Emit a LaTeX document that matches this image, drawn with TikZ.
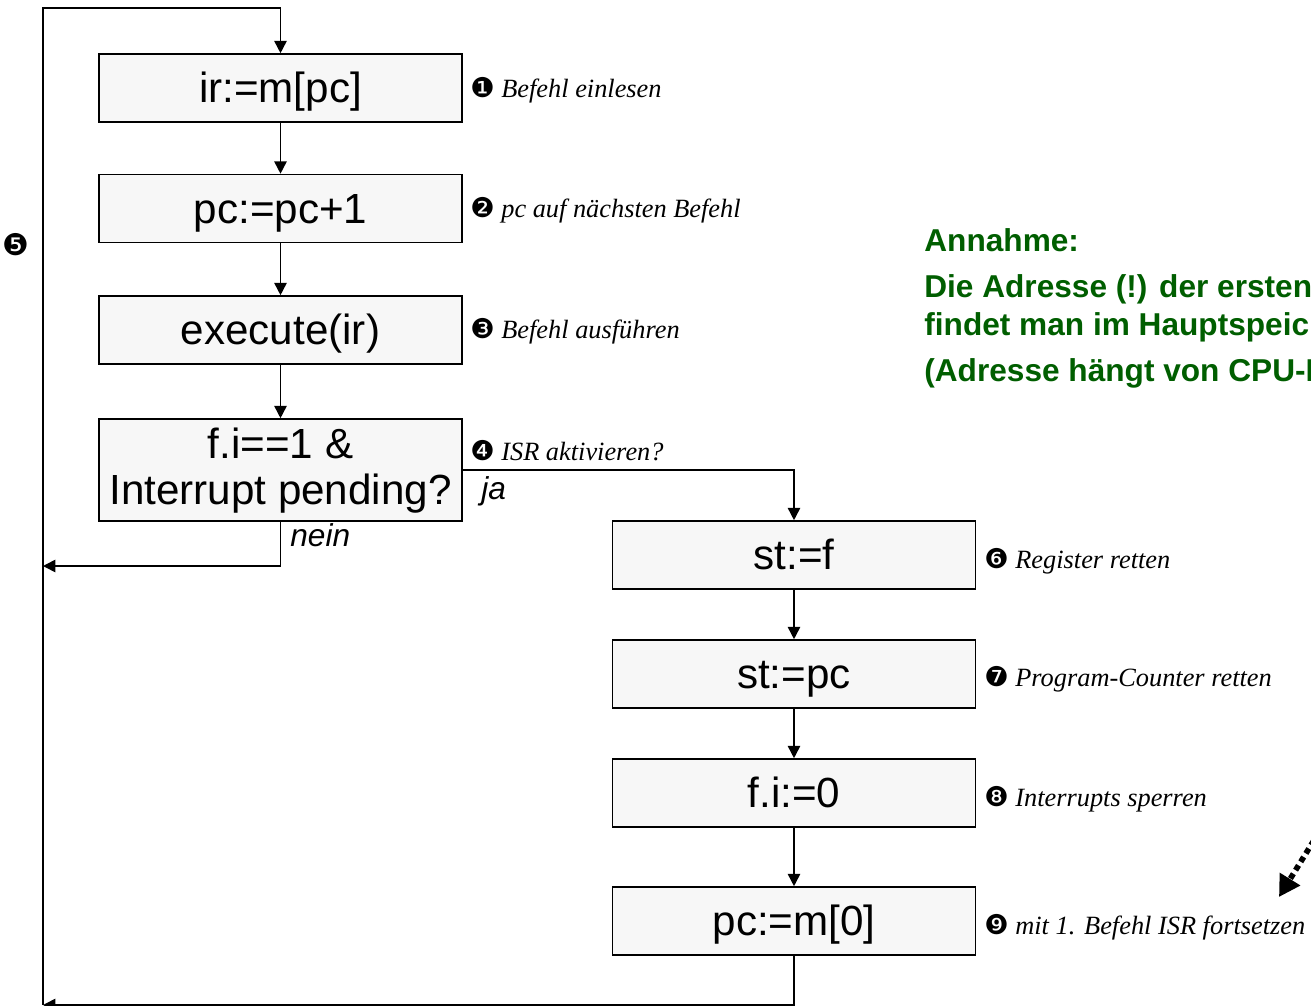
\documentclass[tikz,border=0pt]{standalone}
\usepackage{fontspec}
\setmainfont{Liberation Serif}
\setsansfont{Liberation Sans}
\newfontfamily\dingfont{DejaVu Sans}
\usetikzlibrary{arrows.meta}
\definecolor{boxfill}{HTML}{F7F7F7}
\definecolor{notegreen}{HTML}{005E00}

\tikzset{
  flow/.style={draw=black, line width=0.9pt, -{Triangle[length=7pt,width=7pt]}},
  stepbox/.style={draw=black, line width=0.9pt, fill=boxfill, minimum width=7.26cm,
    minimum height=1.36cm, inner sep=0pt, align=center,
    font=\sffamily\fontsize{24}{26}\selectfont},
  onerow/.style={text height=17pt, text depth=0pt},
  note/.style={anchor=base west, inner sep=0pt, font=\itshape\fontsize{15}{17}\selectfont},
  branch/.style={anchor=base west, inner sep=0pt, font=\sffamily\itshape\fontsize{18}{20}\selectfont},
  remark/.style={anchor=base west, inner sep=0pt, text=notegreen,
    font=\sffamily\bfseries\fontsize{18}{21}\selectfont},
}
\newcommand{\cnum}[1]{{\dingfont\upshape\fontsize{15.5}{15.5}\selectfont #1}}

\begin{document}
\begin{tikzpicture}[x=0.02cm, y=-0.02cm]
\useasboundingbox (0,0) rectangle (1311,1006);

% main loop
\node[stepbox, onerow] (ir)   at (280.5,88)  {ir:=m[pc]};
\node[stepbox, onerow] (inc)  at (280.5,208.5) {pc:=pc+1};
\node[stepbox, onerow] (exe)  at (280.5,330) {execute(ir)};
\node[stepbox, minimum height=2.04cm] (chk) at (280.5,470) {\rule{0pt}{18pt}f.i==1 \&\\Interrupt pending?};

% interrupt entry
\node[stepbox, onerow] (svf)  at (794,555) {st:=f};
\node[stepbox, onerow] (svpc) at (794,674) {st:=pc};
\node[stepbox, onerow] (lock) at (794,793) {f.i:=0};
\node[stepbox, onerow] (jump) at (794,921) {pc:=m[0]};

\coordinate (topleft) at (43,8);
\coordinate (botleft) at (43,1005);
\coordinate (neinleft) at (43,566);

\draw[flow] (ir) -- (inc);
\draw[flow] (inc) -- (exe);
\draw[flow] (exe) -- (chk);
\draw[flow] (chk.south) |- (neinleft);
\draw[flow] (chk.east) -| (svf.north);
\draw[flow] (svf) -- (svpc);
\draw[flow] (svpc) -- (lock);
\draw[flow] (lock) -- (jump);
\draw[flow] (jump.south) |- (botleft);
\draw[flow] (botleft) -- (topleft) -| (ir.north);

% step comments
\node[note] (n1) at (470,98)  {\cnum{❶} Befehl einlesen};
\node[note] (n2) at (470,218) {\cnum{❷} pc auf nächsten Befehl};
\node[note] (n3) at (470,339) {\cnum{❸} Befehl ausführen};
\node[note] (n4) at (470,460) {\cnum{❹} ISR aktivieren?};
\node[note] (n6) at (984,568) {\cnum{❻} Register retten};
\node[note] (n7) at (984,686) {\cnum{❼} Program-Counter retten};
\node[note] (n8) at (984,806) {\cnum{❽} Interrupts sperren};
\node[note] (n9) at (984,934) {\cnum{❾} mit 1. Befehl ISR fortsetzen};
\node[inner sep=0pt] (n5) at (16,245) {\dingfont\fontsize{17}{17}\selectfont ❺};

\node[branch] (ja) at (481,500) {ja};
\node[branch] (nein) at (290,546) {nein};

% assumption
\node[remark] (ann) at (924,252) {Annahme:};
\node[remark] (r1)  at (924,298) {Die Adresse (!) der ersten};
\node[remark] (r2)  at (924,336) {findet man im Hauptspeicher};
\node[remark] (r3)  at (924,382) {(Adresse hängt von CPU-Hersteller};

% hint arrow
\coordinate (hintfrom) at (1345,790);
\coordinate (hintto) at (1279,897);
\draw[line width=3.2pt, dash pattern=on 3.2pt off 2.4pt, -{Triangle[length=12pt,width=13pt]}] (hintfrom) -- (hintto);
\end{tikzpicture}
\end{document}
